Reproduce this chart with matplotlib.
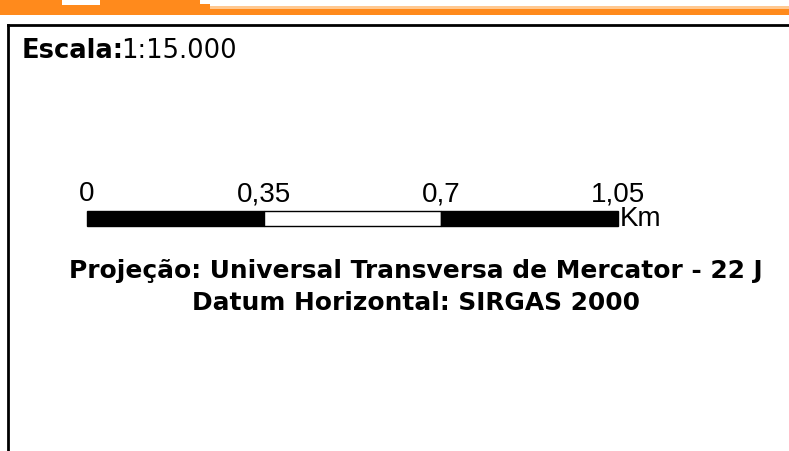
import matplotlib.pyplot as plt
from matplotlib.patches import Rectangle

# scale bar data (km)
tick_values = [0, 0.35, 0.7, 1.05]
tick_labels = ["0", "0,35", "0,7", "1,05"]
segment_colors = ["black", "white", "black"]
unit = "Km"
scale_title = "Escala:"
scale_value = "1:15.000"
info_lines = ["Projeção: Universal Transversa de Mercator - 22 J",
              "Datum Horizontal: SIRGAS 2000"]

plt.rcParams['font.family'] = ['Liberation Sans', 'DejaVu Sans']
wide = ['DejaVu Sans']  # the reference text is stretched horizontally

W, H = 789, 451
fig = plt.figure(figsize=(W / 100, H / 100), dpi=100)
ax = fig.add_axes([0, 0, 1, 1])
ax.set_xlim(0, W)
ax.set_ylim(H, 0)
ax.axis('off')

orange = '#FF8A1C'
# orange header strip
ax.add_patch(Rectangle((0, 6), W, 3, color='#FFC890', lw=0))
ax.add_patch(Rectangle((0, 9), W, 6, color=orange, lw=0))
ax.add_patch(Rectangle((0, 0), 62, 15, color=orange, lw=0))
ax.add_patch(Rectangle((62, 5), 38, 10, color=orange, lw=0))
ax.add_patch(Rectangle((100, 0), 100, 15, color=orange, lw=0))
ax.add_patch(Rectangle((200, 4), 10, 11, color=orange, lw=0))

# frame
ax.plot([8, 8], [H, 24.5], color='black', lw=2, solid_capstyle='projecting')
ax.plot([8, W], [24.5, 24.5], color='black', lw=2, solid_capstyle='projecting')

t = ax.text(22, 58, scale_title, fontsize=18.5, fontweight='bold', va='baseline', family=wide)
ax.annotate(scale_value, xy=(1, 0), xycoords=t, xytext=(-3, 0), textcoords='offset pixels',
            fontsize=18.5, va='bottom', family=wide)

# scale bar in its own axes, in km
bx0, bx1, by0, by1 = 87, 618, 211, 226
bax = fig.add_axes([bx0 / W, 1 - by1 / H, (bx1 - bx0) / W, (by1 - by0) / H])
bax.set_xlim(tick_values[0], tick_values[-1])
bax.set_ylim(0, 1)
bax.axis('off')
for i, c in enumerate(segment_colors):
    bax.add_patch(Rectangle((tick_values[i], 0), tick_values[i + 1] - tick_values[i], 1,
                            facecolor=c, edgecolor='black', lw=1, clip_on=False))
for v, lab in zip(tick_values, tick_labels):
    bax.annotate(lab, (v, 1), xytext=(0, 10), textcoords='offset pixels',
                 ha='center', va='baseline', fontsize=20, annotation_clip=False)
bax.annotate(unit, (tick_values[-1], 0), xytext=(2, 0), textcoords='offset pixels',
             ha='left', va='baseline', fontsize=20, annotation_clip=False)

ax.text(416, 278, info_lines[0], fontsize=17.9, fontweight='bold', ha='center', va='baseline', family=wide)
ax.text(416, 310, info_lines[1], fontsize=17.9, fontweight='bold', ha='center', va='baseline', family=wide)

fig.savefig('out.png', dpi=100)
